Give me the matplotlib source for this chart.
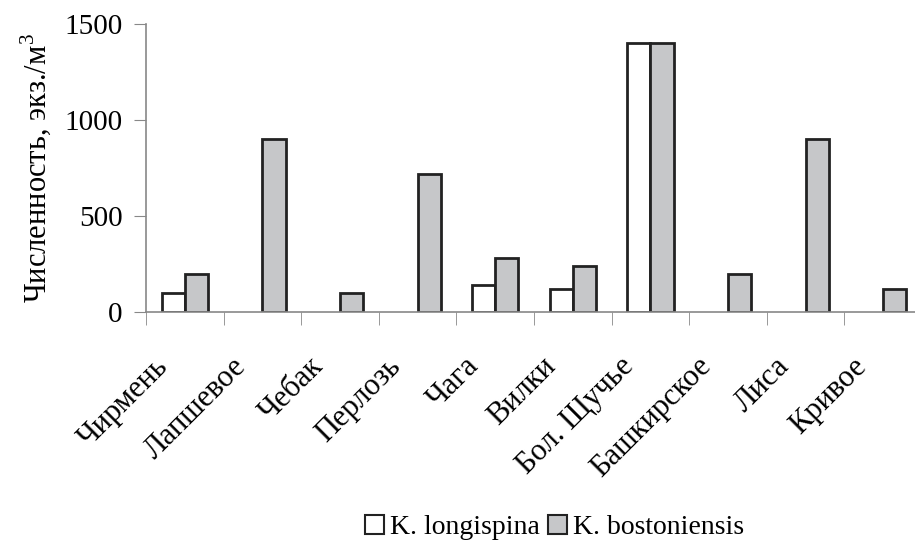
import numpy as np
import matplotlib
matplotlib.use("Agg")
import matplotlib.pyplot as plt
from matplotlib.transforms import ScaledTranslation

plt.rcParams['font.family'] = ['Liberation Serif', 'DejaVu Serif']
plt.rcParams['mathtext.fontset'] = 'custom'
plt.rcParams['mathtext.rm'] = 'Liberation Serif'

# lakes and counts (ind./m3)
lakes = ['Чирмень', 'Лапшевое', 'Чебак', 'Перлозь', 'Чага', 'Вилки',
         'Бол. Щучье', 'Башкирское', 'Лиса', 'Кривое']
longispina = [100, 0, 0, 0, 140, 120, 1400, 0, 0, 0]
bostoniensis = [200, 900, 100, 720, 280, 240, 1400, 200, 900, 120]

fig = plt.figure(figsize=(9.15, 5.46), dpi=100)
ax = fig.add_axes([146 / 915, 1 - 312 / 546, 1 - 146 / 915, (312 - 24) / 546])

x = np.arange(len(lakes))
w = 0.3
# zero values are not outlined in the original
ec1 = ['#222222' if v > 0 else 'none' for v in longispina]
ec2 = ['#222222' if v > 0 else 'none' for v in bostoniensis]
ax.bar(x - w / 2, longispina, width=w, color='white', edgecolor=ec1, linewidth=2)
ax.bar(x + w / 2, bostoniensis, width=w, color='#c6c7c9', edgecolor=ec2, linewidth=2)

ax.set_xlim(-0.5, 9.41)
ax.set_ylim(0, 1500)
ax.set_yticks([0, 500, 1000, 1500])
ax.tick_params(axis='y', labelsize=21, length=9, color='#888888', pad=8)

ax.set_xticks(x)
ax.set_xticklabels(lakes, rotation=45, ha='right', va='center', rotation_mode='anchor',
                   fontsize=22)
ax.tick_params(axis='x', which='major', length=0, pad=36)
shift = ScaledTranslation(-21 / 100, 0, fig.dpi_scale_trans)
for lbl in ax.get_xticklabels():
    lbl.set_transform(lbl.get_transform() + shift)
ax.set_xticks(np.arange(len(lakes)) - 0.5, minor=True)
ax.tick_params(axis='x', which='minor', length=9, color='#888888')

for s in ['top', 'right']:
    ax.spines[s].set_visible(False)
for s in ['left', 'bottom']:
    ax.spines[s].set_color('#888888')
    ax.spines[s].set_linewidth(1.2)

ax.set_ylabel('Численность, экз./м$^3$', fontsize=22, labelpad=8)

handles = [plt.Rectangle((0, 0), 1, 1, facecolor='white', edgecolor='#222222', linewidth=1.5),
           plt.Rectangle((0, 0), 1, 1, facecolor='#c6c7c9', edgecolor='#222222', linewidth=1.5)]
fig.legend(handles, ['K. longispina', 'K. bostoniensis'], loc='lower center',
           bbox_to_anchor=(0.606, -0.035), ncol=2, frameon=False, fontsize=20,
           handlelength=0.7, handleheight=0.7, handletextpad=0.2, columnspacing=0.3)

fig.savefig('out.png', dpi=100)
